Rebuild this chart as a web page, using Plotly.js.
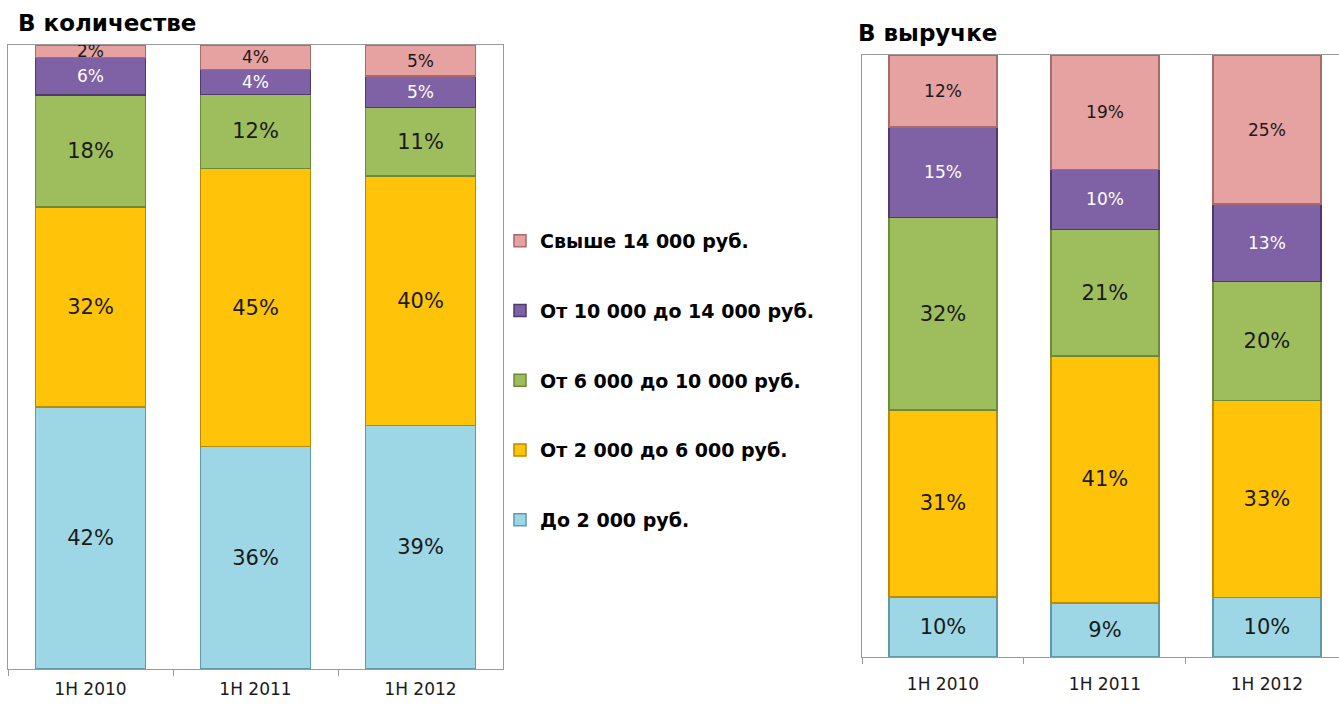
<!DOCTYPE html>
<html>
<head>
<meta charset="utf-8">
<script src="https://cdn.plot.ly/plotly-3.0.1.min.js"></script>
<style>html,body{margin:0;padding:0;background:#fff;}#chart{width:1339px;height:704px;}</style>
</head>
<body>
<div id="chart"></div>
<script>
const categories = ['1H 2010', '1H 2011', '1H 2012'];
const seriesNames = ['До 2 000 руб.', 'От 2 000 до 6 000 руб.', 'От 6 000 до 10 000 руб.', 'От 10 000 до 14 000 руб.', 'Свыше 14 000 руб.'];

// В количестве (share by quantity, %)
const qtyUpTo2k   = [42, 36, 39];
const qty2kTo6k   = [32, 45, 40];
const qty6kTo10k  = [18, 12, 11];
const qty10kTo14k = [6, 4, 5];
const qtyOver14k  = [2, 4, 5];

// В выручке (share by revenue, %)
const revUpTo2k   = [10, 9, 10];
const rev2kTo6k   = [31, 41, 33];
const rev6kTo10k  = [32, 21, 20];
const rev10kTo14k = [15, 10, 13];
const revOver14k  = [12, 19, 25];

const titles = ['В количестве', 'В выручке'];

const colors = ['#9DD7E6', '#FFC30A', '#9EBE5E', '#7F62A6', '#E6A1A1'];
const edgeColors = ['#5f9aa8', '#b88b00', '#6b8a3a', '#4e3a6e', '#a86a6a'];
const textColors = ['#1a1a1a', '#1a1a1a', '#1a1a1a', '#ffffff', '#1a1a1a'];
const textSizes = [21, 21, 21, 17, 17];
const FONT = '"DejaVu Sans", "Noto Sans", sans-serif';

const qtySeries = [qtyUpTo2k, qty2kTo6k, qty6kTo10k, qty10kTo14k, qtyOver14k];
const revSeries = [revUpTo2k, rev2kTo6k, rev6kTo10k, rev10kTo14k, revOver14k];

const traces = [];
function addTraces(series, xa, ya, showLegend) {
  series.forEach((vals, i) => {
    traces.push({
      type: 'bar',
      x: categories,
      y: vals,
      xaxis: xa,
      yaxis: ya,
      name: seriesNames[i],
      legendgroup: 'g' + i,
      legendrank: 1000 - i,
      showlegend: showLegend,
      marker: { color: colors[i], line: { color: edgeColors[i], width: 1.5 } },
      text: vals.map(v => v + '%'),
      textposition: 'inside',
      insidetextanchor: 'middle',
      textangle: 0,
      constraintext: 'none',
      textfont: { family: FONT, size: textSizes[i], color: textColors[i] },
      hoverinfo: 'name+text'
    });
  });
}
addTraces(qtySeries, 'x', 'y', true);
addTraces(revSeries, 'x2', 'y2', false);

const W = 1339, H = 704;
const axisCommon = {
  type: 'category',
  showline: true, linecolor: '#9a9a9a', linewidth: 1, mirror: true,
  ticks: 'outside', tickson: 'boundaries', ticklen: 6, tickcolor: '#9a9a9a',
  tickfont: { family: FONT, size: 17, color: '#1a1a1a' },
  showgrid: false, zeroline: false, automargin: false, fixedrange: true
};
const yCommon = {
  range: [0, 100], showticklabels: false, ticks: '', showgrid: false, zeroline: false,
  showline: true, linecolor: '#9a9a9a', linewidth: 1, mirror: true, automargin: false, fixedrange: true
};

const layout = {
  width: W, height: H,
  margin: { l: 0, r: 0, t: 0, b: 0, pad: 0 },
  paper_bgcolor: '#ffffff', plot_bgcolor: '#ffffff',
  barmode: 'stack', barnorm: 'percent', bargap: 0.335,
  font: { family: FONT, color: '#1a1a1a' },
  xaxis: Object.assign({}, axisCommon, { domain: [8 / W, 503 / W], anchor: 'y', range: [-0.5, 2.5], ticklabelstandoff: 5 }),
  yaxis: Object.assign({}, yCommon, { domain: [(H - 669) / H, (H - 45) / H], anchor: 'x' }),
  xaxis2: Object.assign({}, axisCommon, { domain: [862 / W, 1], anchor: 'y2', range: [-0.5, 2.445], ticklabelstandoff: 12 }),
  yaxis2: Object.assign({}, yCommon, { domain: [(H - 657) / H, (H - 55) / H], anchor: 'x2' }),
  legend: {
    x: 500 / W, xanchor: 'left', y: (H - 222) / H, yanchor: 'top',
    traceorder: 'grouped', tracegroupgap: 42,
    font: { family: FONT, size: 19, color: '#000', weight: 'bold' },
    itemwidth: 30, bgcolor: 'rgba(0,0,0,0)'
  },
  annotations: [
    { text: '<b>' + titles[0] + '</b>', xref: 'paper', yref: 'paper', x: 16 / W, y: (H - 23) / H,
      xanchor: 'left', yanchor: 'middle', showarrow: false, font: { family: FONT, size: 23, color: '#000' } },
    { text: '<b>' + titles[1] + '</b>', xref: 'paper', yref: 'paper', x: 856 / W, y: (H - 33) / H,
      xanchor: 'left', yanchor: 'middle', showarrow: false, font: { family: FONT, size: 23, color: '#000' } }
  ],
  showlegend: true
};

Plotly.newPlot('chart', traces, layout, { displayModeBar: false, staticPlot: true });
</script>
</body>
</html>
